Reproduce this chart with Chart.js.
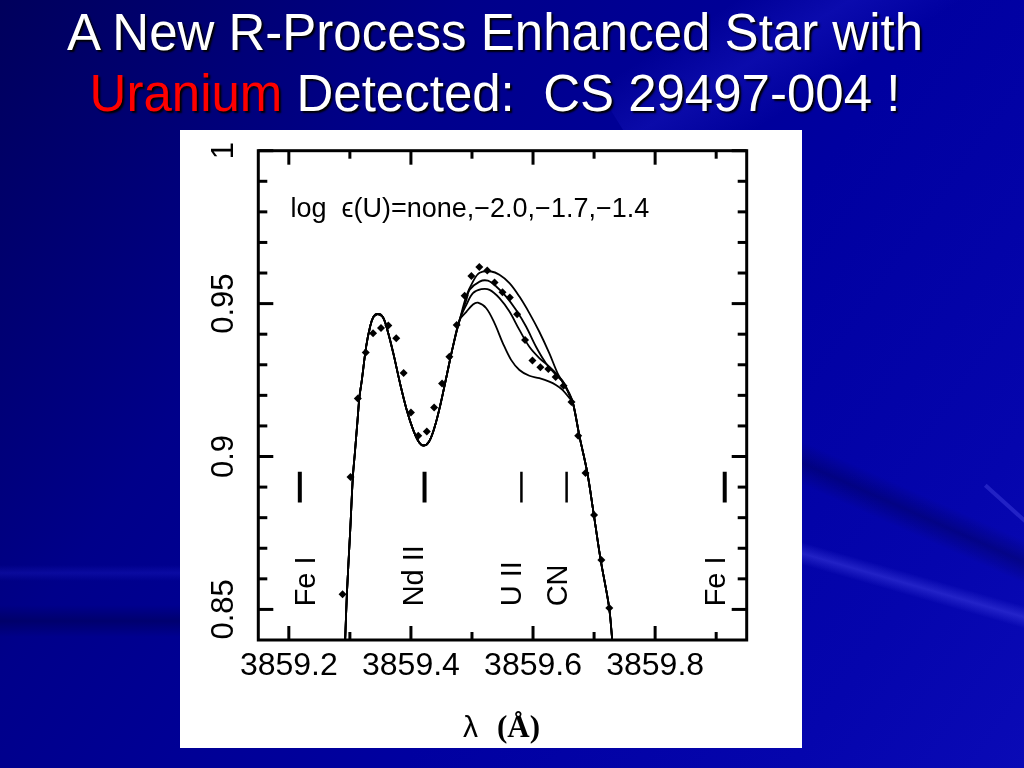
<!DOCTYPE html>
<html><head><meta charset="utf-8">
<script src="https://cdn.jsdelivr.net/npm/chart.js@4.4.1/dist/chart.umd.min.js"></script>
<style>
html,body{margin:0;padding:0;width:1024px;height:768px;overflow:hidden;}
body{position:relative;background:linear-gradient(125deg,#00005c 0%,#00008a 30%,#0000a0 60%,#0505ad 85%,#0a0ab6 100%);font-family:"Liberation Sans",Arial,sans-serif;}
.streak{position:absolute;pointer-events:none;}
#title{position:absolute;left:0;top:2px;width:990px;text-align:center;color:#fff;font-size:51px;line-height:61px;text-shadow:2px 2px 2px #000;white-space:pre;}
#title .red{color:#ff0000;}
#panel{position:absolute;left:180px;top:130px;width:622px;height:618px;background:#fff;}
#panel canvas{position:absolute;left:0;top:0;}
</style></head>
<body>
<div class="streak" style="left:560px;top:-160px;width:900px;height:120px;transform:rotate(-32deg);background:linear-gradient(180deg,rgba(60,60,255,0) 0%,rgba(60,60,255,0.18) 50%,rgba(60,60,255,0) 100%);"></div>
<div class="streak" style="left:702px;top:492px;width:420px;height:40px;transform:rotate(24deg);background:linear-gradient(180deg,rgba(0,0,60,0) 0%,rgba(0,0,60,0.35) 50%,rgba(0,0,60,0) 100%);"></div>
<div class="streak" style="left:702px;top:574px;width:420px;height:22px;transform:rotate(16deg);background:linear-gradient(180deg,rgba(70,70,230,0) 0%,rgba(70,70,230,0.45) 50%,rgba(70,70,230,0) 100%);"></div>
<div class="streak" style="left:975px;top:510px;width:80px;height:4px;transform:rotate(42deg);background:rgba(90,90,240,0.35);"></div>
<div class="streak" style="left:0px;top:565px;width:180px;height:16px;background:linear-gradient(180deg,rgba(40,40,220,0) 0%,rgba(40,40,220,0.25) 50%,rgba(40,40,220,0) 100%);"></div>
<div class="streak" style="left:0px;top:605px;width:180px;height:32px;background:linear-gradient(180deg,rgba(0,0,50,0) 0%,rgba(0,0,50,0.35) 50%,rgba(0,0,50,0) 100%);"></div>
<div id="title">A New R-Process Enhanced Star with
<span class="red">Uranium</span> Detected:  CS 29497-004 !</div>
<div id="panel"><canvas id="c" width="622" height="618"></canvas></div>
<script>
// Observed spectrum (diamonds)
const obsX = [3859.288, 3859.301, 3859.313, 3859.326, 3859.338, 3859.351, 3859.363, 3859.376, 3859.388, 3859.400, 3859.412, 3859.426, 3859.438, 3859.451, 3859.463, 3859.475, 3859.488, 3859.499, 3859.512, 3859.525, 3859.537, 3859.550, 3859.562, 3859.574, 3859.587, 3859.599, 3859.612, 3859.625, 3859.637, 3859.650, 3859.663, 3859.674, 3859.686, 3859.700, 3859.712, 3859.725];
const obsY = [0.855, 0.8933, 0.919, 0.934, 0.9403, 0.942, 0.9428, 0.9387, 0.9273, 0.9144, 0.9068, 0.9082, 0.916, 0.9239, 0.9326, 0.943, 0.9526, 0.959, 0.962, 0.9608, 0.9569, 0.9537, 0.952, 0.9465, 0.9381, 0.9314, 0.9292, 0.9286, 0.926, 0.9231, 0.9178, 0.9068, 0.8946, 0.8809, 0.8662, 0.8505];

// Synthetic spectra: common rising part
const riseX = [3859.2918, 3859.2924, 3859.2952, 3859.3006, 3859.3049, 3859.3079, 3859.3126, 3859.3157, 3859.3196, 3859.3267, 3859.3332, 3859.3385, 3859.3457, 3859.3539, 3859.3614, 3859.3711, 3859.3821, 3859.3930, 3859.4037, 3859.4135, 3859.4212, 3859.4298, 3859.4391, 3859.4489, 3859.4582, 3859.4689, 3859.4799];
const riseY = [0.8385, 0.8407, 0.8555, 0.876, 0.8934, 0.9005, 0.912, 0.9195, 0.925, 0.936, 0.9425, 0.9456, 0.9466, 0.9456, 0.9414, 0.9338, 0.924, 0.9153, 0.9087, 0.9046, 0.9036, 0.9049, 0.9098, 0.9175, 0.9261, 0.936, 0.9447];

// U-sensitive part for log eps(U) = none, -2.0, -1.7, -1.4
const midNoneX = [3859.4908, 3859.5016, 3859.5125, 3859.5315, 3859.5450, 3859.5614, 3859.5777, 3859.5940, 3859.6103, 3859.6266, 3859.6401, 3859.6510, 3859.6592];
const midNoneY = [0.9525, 0.9572, 0.9601, 0.9605, 0.9594, 0.9567, 0.9523, 0.9469, 0.9408, 0.9338, 0.9273, 0.9234, 0.9205];
const mid20X = [3859.4908, 3859.4962, 3859.5125, 3859.5260, 3859.5397, 3859.5560, 3859.5723, 3859.5886, 3859.6049, 3859.6212, 3859.6375, 3859.6482, 3859.6592];
const mid20Y = [0.9512, 0.9545, 0.9572, 0.9575, 0.9556, 0.9523, 0.9479, 0.9425, 0.9359, 0.9305, 0.9267, 0.9245, 0.9208];
const mid17X = [3859.4908, 3859.5016, 3859.5152, 3859.5288, 3859.5450, 3859.5614, 3859.5777, 3859.5940, 3859.6103, 3859.6266, 3859.6401, 3859.6510, 3859.6592];
const mid17Y = [0.9496, 0.9534, 0.9547, 0.9545, 0.9518, 0.9474, 0.9414, 0.9359, 0.9322, 0.9294, 0.9267, 0.924, 0.9202];
const mid14X = [3859.4908, 3859.5016, 3859.5097, 3859.5234, 3859.5369, 3859.5505, 3859.5641, 3859.5777, 3859.5940, 3859.6103, 3859.6266, 3859.6375, 3859.6482, 3859.6592];
const mid14Y = [0.9473, 0.9497, 0.9503, 0.9485, 0.9436, 0.9371, 0.9316, 0.9283, 0.9264, 0.9256, 0.9245, 0.9234, 0.9218, 0.9192];

// common falling tail
const tailX = [3859.6654, 3859.6762, 3859.6890, 3859.7000, 3859.7108, 3859.7244, 3859.7297, 3859.7309];
const tailY = [0.9175, 0.9065, 0.8946, 0.8804, 0.8662, 0.8510, 0.8401, 0.8375];

// line identifications
const featureNames = ['Fe I', 'Nd II', 'U II', 'CN', 'Fe I'];
const featureX = [3859.218, 3859.4223, 3859.581, 3859.655, 3859.914];
const featureYTop = [0.895, 0.895, 0.895, 0.895, 0.895];
const featureYBottom = [0.885, 0.885, 0.885, 0.885, 0.885];
const featureLabelX = [3859.243, 3859.4196, 3859.5798, 3859.6559, 3859.9139];
const featureLabelY = [0.851, 0.851, 0.851, 0.851, 0.851];

// axes
const xMin = 3859.15, xMax = 3859.95, yMin = 0.84, yMax = 1.0;
const xMajorTicks = [3859.2, 3859.4, 3859.6, 3859.8];
const xTickLabels = ['3859.2', '3859.4', '3859.6', '3859.8'];
const xMinorTicks = [3859.3, 3859.5, 3859.7, 3859.9];
const yMajorTicks = [0.85, 0.9, 0.95, 1.0];
const yTickLabels = ['0.85', '0.9', '0.95', '1'];
const yMinorTicks = [0.86, 0.87, 0.88, 0.89, 0.91, 0.92, 0.93, 0.94, 0.96, 0.97, 0.98, 0.99];
const annotText = 'log  \u03F5(U)=none,\u22122.0,\u22121.7,\u22121.4';
const annotX = [3859.2028];
const annotY = [0.9783];

const pts = (xs, ys) => xs.map((v, i) => ({x: v, y: ys[i]}));
const curve = (mx, my) => pts(riseX.concat(mx, tailX), riseY.concat(my, tailY));
const featureWidths = [4, 4, 2.5, 2.5, 4];

const curveStyle = {showLine: true, borderColor: '#000', borderWidth: 1.8, pointRadius: 0, tension: 0.35, order: 2, fill: false};
const datasets = [
  Object.assign({label: 'none', data: curve(midNoneX, midNoneY)}, curveStyle),
  Object.assign({label: '-2.0', data: curve(mid20X, mid20Y)}, curveStyle),
  Object.assign({label: '-1.7', data: curve(mid17X, mid17Y)}, curveStyle),
  Object.assign({label: '-1.4', data: curve(mid14X, mid14Y)}, curveStyle),
  {label: 'observed', data: pts(obsX, obsY), showLine: false, pointStyle: 'rectRot', pointRadius: 4, pointBackgroundColor: '#000', pointBorderColor: '#000', pointBorderWidth: 0, order: 0}
];
featureX.forEach((fx, i) => {
  datasets.push({label: featureNames[i], data: [{x: fx, y: featureYTop[i]}, {x: fx, y: featureYBottom[i]}], showLine: true, borderColor: '#000', borderWidth: featureWidths[i], pointRadius: 0, borderCapStyle: 'butt', order: 1});
});

const FONT = '"Liberation Sans", Arial, Helvetica, sans-serif';
const decor = {
  id: 'decor',
  afterDatasetsDraw(chart) {
    const {ctx, chartArea: a, scales: {x, y}} = chart;
    ctx.save();
    ctx.strokeStyle = '#000'; ctx.lineWidth = 3; ctx.lineCap = 'butt';
    ctx.strokeRect(a.left, a.top, a.right - a.left, a.bottom - a.top);
    const seg = (x1, y1, x2, y2) => { ctx.beginPath(); ctx.moveTo(x1, y1); ctx.lineTo(x2, y2); ctx.stroke(); };
    xMajorTicks.forEach(v => { const p = x.getPixelForValue(v); seg(p, a.top, p, a.top + 14); seg(p, a.bottom, p, a.bottom - 14); });
    xMinorTicks.forEach(v => { const p = x.getPixelForValue(v); seg(p, a.top, p, a.top + 8); seg(p, a.bottom, p, a.bottom - 8); });
    yMajorTicks.forEach(v => { const p = y.getPixelForValue(v); seg(a.left, p, a.left + 15, p); seg(a.right, p, a.right - 15, p); });
    yMinorTicks.forEach(v => { const p = y.getPixelForValue(v); seg(a.left, p, a.left + 9, p); seg(a.right, p, a.right - 9, p); });
    ctx.fillStyle = '#000';
    // y tick labels (rotated)
    ctx.font = '31px ' + FONT; ctx.textAlign = 'center'; ctx.textBaseline = 'middle';
    yMajorTicks.forEach((v, i) => {
      const p = y.getPixelForValue(v);
      ctx.save(); ctx.translate(a.left - 34, p); ctx.rotate(-Math.PI / 2); ctx.fillText(yTickLabels[i], 0, 0); ctx.restore();
    });
    // feature labels
    ctx.font = '29px ' + FONT; ctx.textAlign = 'left'; ctx.textBaseline = 'alphabetic';
    featureNames.forEach((t, i) => {
      const px = x.getPixelForValue(featureLabelX[i]), py = y.getPixelForValue(featureLabelY[i]);
      ctx.save(); ctx.translate(px, py); ctx.rotate(-Math.PI / 2); ctx.fillText(t, 0, 0); ctx.restore();
    });
    // annotation
    ctx.font = '27px ' + FONT;
    ctx.fillText(annotText, x.getPixelForValue(annotX[0]), y.getPixelForValue(annotY[0]));
    // axis title
    const cx = (a.left + a.right) / 2, by = a.bottom + 97;
    ctx.font = '30px ' + FONT; ctx.fillText('\u03BB', cx - 39.5, by);
    ctx.font = 'bold 31px "Liberation Serif", "Times New Roman", serif'; ctx.fillText('(\u00C5)', cx - 5.5, by);
    ctx.restore();
  }
};

new Chart(document.getElementById('c'), {
  type: 'scatter',
  data: {datasets},
  options: {
    responsive: false, animation: false, devicePixelRatio: 1,
    layout: {padding: {left: 78.3, top: 20.7, right: 55.3, bottom: 58}},
    plugins: {legend: {display: false}, tooltip: {enabled: false}},
    scales: {
      x: {type: 'linear', min: xMin, max: xMax,
          grid: {display: false, drawTicks: false}, border: {display: false},
          afterBuildTicks: s => { s.ticks = xMajorTicks.map(v => ({value: v})); },
          afterFit: s => { s.height = 50; },
          ticks: {autoSkip: false, maxRotation: 0, minRotation: 0, padding: 7, color: '#000', font: {size: 32, family: FONT},
                  callback: (v) => { const i = xMajorTicks.findIndex(t => Math.abs(t - v) < 1e-6); return i >= 0 ? xTickLabels[i] : ''; }}},
      y: {type: 'linear', min: yMin, max: yMax, display: false}
    }
  },
  plugins: [decor]
});
</script>
</body></html>
